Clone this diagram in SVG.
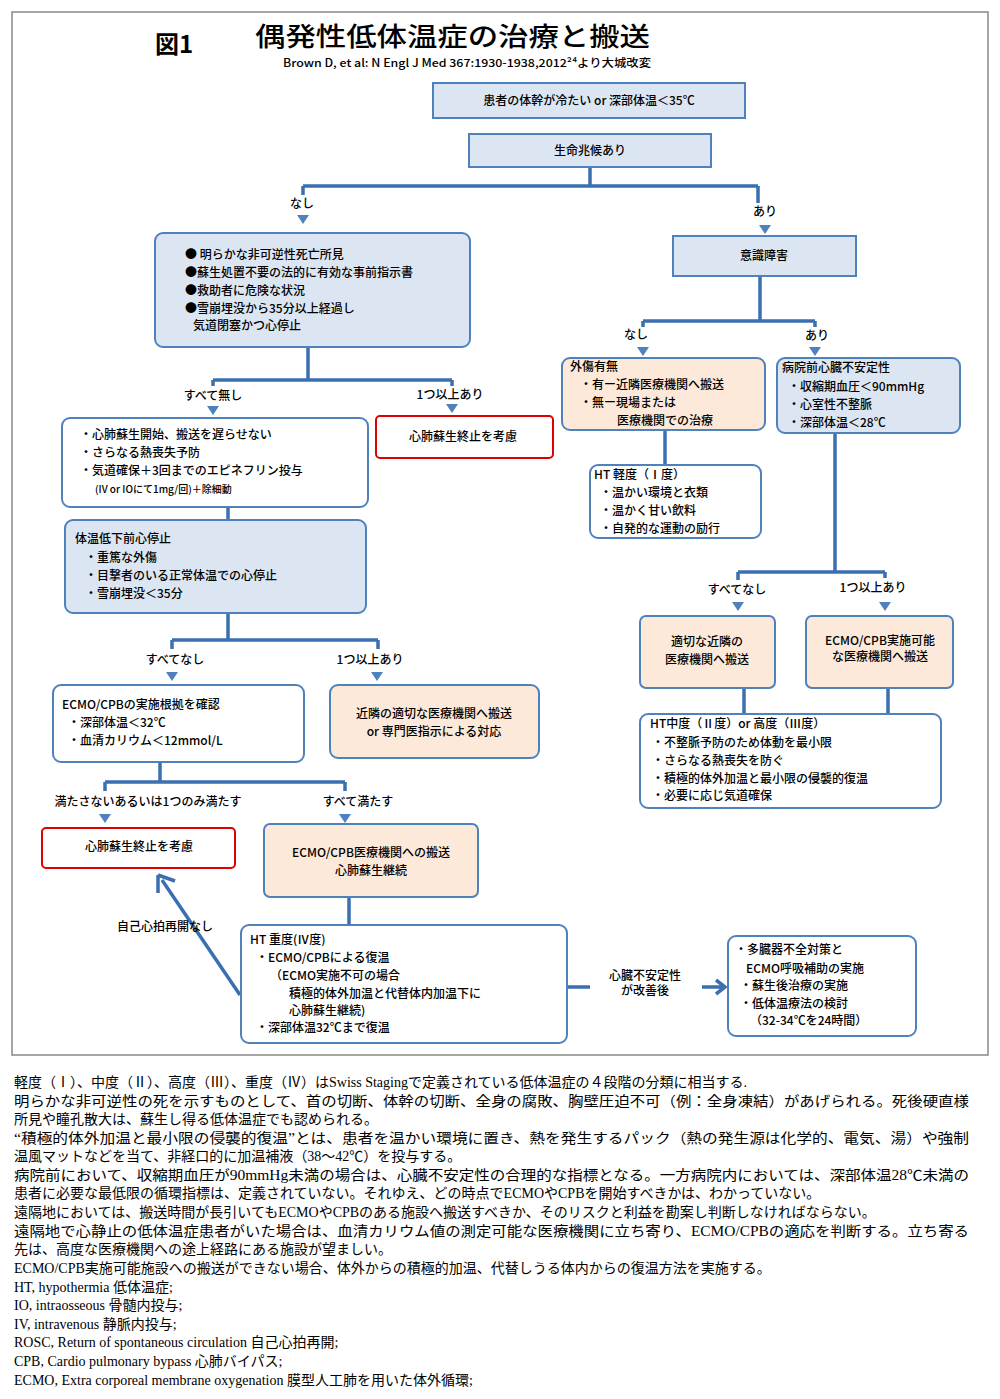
<svg xmlns="http://www.w3.org/2000/svg" xmlns:xlink="http://www.w3.org/1999/xlink" width="1000" height="1399" viewBox="0 0 1000 1399">
<style>
text{font-family:"Noto Sans CJK JP",sans-serif;font-size:12px;fill:#000;font-weight:500}
.b{stroke:#4f81bd;stroke-width:2}
.blue{fill:#dce6f2}.peach{fill:#fde9d9}.white{fill:#fff}
.red{fill:#fff;stroke:#e00000;stroke-width:2}
.ln{stroke:#3a70b0;stroke-width:3.5;fill:none}
.c{text-anchor:middle}
.fn{font-family:"Liberation Serif","Noto Sans CJK JP",serif;font-size:14px;font-weight:normal}
</style>
<defs>
<path id="tri" d="M-6,-5 L6,-5 L0,4 Z" fill="#4f81bd"/>
</defs>
<rect x="0" y="0" width="1000" height="1399" fill="#fff"/>
<rect x="12" y="12" width="976" height="1043" fill="none" stroke="#888" stroke-width="1.5"/>
<text x="155" y="53" style="font-size:24px;font-weight:bold">図1</text>
<text x="255" y="46" style="font-size:26px" textLength="395" lengthAdjust="spacingAndGlyphs">偶発性低体温症の治療と搬送</text>
<text x="283" y="67" style="font-size:11px" textLength="368" lengthAdjust="spacingAndGlyphs">Brown D, et al: N Engl  J Med 367:1930-1938,2012²⁴より大城改変</text>

<g id="connectors">
<path class="ln" d="M590,167V186 M303,186H758 M303,186V195 M758,186V203"/>
<path class="ln" d="M760,276V321 M643,321H815 M643,321V327 M815,321V327"/>
<path class="ln" d="M665,430V465"/>
<path class="ln" d="M835,433V572 M738,572H885 M738,572V580 M885,572V578"/>
<path class="ln" d="M744,688V714 M888,688V714"/>
<path class="ln" d="M308,347V380 M213,380H452 M213,380V386 M452,380V386"/>
<path class="ln" d="M228,507V520"/>
<path class="ln" d="M228,613V640 M172,640H378 M172,640V649 M378,640V649"/>
<path class="ln" d="M160,762V782 M105,782H345 M105,782V791 M345,782V791"/>
<path class="ln" d="M349,897V925"/>
<path class="ln" d="M240,995L162,880 M158,875l0,18 M158,875l17,6"/>
<path class="ln" d="M567,987H590 M702,987H724 M716,980l9,7l-9,7"/>
<use href="#tri" x="303" y="220"/><use href="#tri" x="765" y="230"/>
<use href="#tri" x="643" y="352"/><use href="#tri" x="815" y="352"/>
<use href="#tri" x="738" y="607"/><use href="#tri" x="885" y="607"/>
<use href="#tri" x="213" y="411"/><use href="#tri" x="452" y="409"/>
<use href="#tri" x="172" y="677"/><use href="#tri" x="377" y="677"/>
<use href="#tri" x="105" y="819"/><use href="#tri" x="345" y="819"/>
</g>
<g id="labels">
<text x="302" y="208" class="c">なし</text>
<text x="765" y="216" class="c">あり</text>
<text x="636" y="339" class="c">なし</text>
<text x="817" y="340" class="c">あり</text>
<text x="737" y="594" class="c">すべてなし</text>
<text x="873" y="592" class="c">1つ以上あり</text>
<text x="213" y="400" class="c">すべて無し</text>
<text x="450" y="399" class="c">1つ以上あり</text>
<text x="175" y="664" class="c">すべてなし</text>
<text x="370" y="664" class="c">1つ以上あり</text>
<text x="148" y="806" class="c">満たさないあるいは1つのみ満たす</text>
<text x="358" y="806" class="c">すべて満たす</text>
<text x="165" y="931" class="c">自己心拍再開なし</text>
<text x="645" y="980" class="c">心臓不安定性</text>
<text x="645" y="995" class="c">が改善後</text>
</g>

<g id="n1"><rect x="433" y="83" width="312" height="35" class="b blue"/><text x="589" y="105" class="c">患者の体幹が冷たい or 深部体温＜35℃</text></g>
<g id="n2"><rect x="469" y="134" width="242" height="33" class="b blue"/><text x="590" y="155" class="c">生命兆候あり</text></g>
<g id="n3"><rect x="155" y="233" width="315" height="114" rx="8" class="b blue"/>
<text x="185" y="259">● 明らかな非可逆性死亡所見</text>
<text x="185" y="277">●蘇生処置不要の法的に有効な事前指示書</text>
<text x="185" y="295">●救助者に危険な状況</text>
<text x="185" y="313">●雪崩埋没から35分以上経過し</text>
<text x="193" y="330">気道閉塞かつ心停止</text></g>
<g id="n4"><rect x="673" y="236" width="183" height="40" class="b blue"/><text x="764" y="260" class="c">意識障害</text></g>
<g id="n5"><rect x="562" y="358" width="203" height="72" rx="8" class="b peach"/>
<text x="570" y="371">外傷有無</text>
<text x="580" y="389">・有ー近隣医療機関へ搬送</text>
<text x="580" y="407">・無ー現場または</text>
<text x="617" y="425">医療機関での治療</text></g>
<g id="n6"><rect x="777" y="358" width="183" height="75" rx="8" class="b blue"/>
<text x="782" y="372">病院前心臓不安定性</text>
<text x="788" y="391">・収縮期血圧＜90mmHg</text>
<text x="788" y="409">・心室性不整脈</text>
<text x="788" y="427">・深部体温＜28℃</text></g>
<g id="n7"><rect x="590" y="465" width="171" height="73" rx="8" class="b white"/>
<text x="594" y="479">HT 軽度（Ⅰ度）</text>
<text x="600" y="497">・温かい環境と衣類</text>
<text x="600" y="515">・温かく甘い飲料</text>
<text x="600" y="533">・自発的な運動の励行</text></g>
<g id="n8"><rect x="640" y="616" width="135" height="72" rx="6" class="b peach"/>
<text x="707" y="646" class="c">適切な近隣の</text><text x="707" y="664" class="c">医療機関へ搬送</text></g>
<g id="n9"><rect x="806" y="616" width="147" height="72" rx="6" class="b peach"/>
<text x="880" y="645" class="c">ECMO/CPB実施可能</text><text x="880" y="661" class="c">な医療機関へ搬送</text></g>
<g id="n10"><rect x="640" y="714" width="301" height="94" rx="8" class="b white"/>
<text x="650" y="728">HT中度（Ⅱ度）or 高度（Ⅲ度）</text>
<text x="652" y="747">・不整脈予防のため体動を最小限</text>
<text x="652" y="765">・さらなる熱喪失を防ぐ</text>
<text x="652" y="783">・積極的体外加温と最小限の侵襲的復温</text>
<text x="652" y="800">・必要に応じ気道確保</text></g>
<g id="n11"><rect x="62" y="418" width="306" height="89" rx="8" class="b white"/>
<text x="80" y="439">・心肺蘇生開始、搬送を遅らせない</text>
<text x="80" y="457">・さらなる熱喪失予防</text>
<text x="80" y="475">・気道確保＋3回までのエピネフリン投与</text>
<text x="95" y="493" style="font-size:10px">(IV or IOにて1mg/回)＋除細動</text></g>
<g id="n12"><rect x="376" y="416" width="177" height="42" rx="4" class="red"/><text x="463" y="441" class="c">心肺蘇生終止を考慮</text></g>
<g id="n13"><rect x="65" y="520" width="301" height="93" rx="8" class="b blue"/>
<text x="75" y="543">体温低下前心停止</text>
<text x="85" y="562">・重篤な外傷</text>
<text x="85" y="580">・目撃者のいる正常体温での心停止</text>
<text x="85" y="598">・雪崩埋没＜35分</text></g>
<g id="n14"><rect x="53" y="685" width="251" height="77" rx="8" class="b white"/>
<text x="62" y="709">ECMO/CPBの実施根拠を確認</text>
<text x="68" y="727">・深部体温＜32℃</text>
<text x="68" y="745">・血清カリウム＜12mmol/L</text></g>
<g id="n15"><rect x="330" y="685" width="209" height="73" rx="8" class="b peach"/>
<text x="434" y="718" class="c">近隣の適切な医療機関へ搬送</text>
<text x="434" y="736" class="c">or 専門医指示による対応</text></g>
<g id="n16"><rect x="42" y="828" width="193" height="40" rx="4" class="red"/><text x="139" y="851" class="c">心肺蘇生終止を考慮</text></g>
<g id="n17"><rect x="264" y="824" width="214" height="73" rx="6" class="b peach"/>
<text x="371" y="857" class="c">ECMO/CPB医療機関への搬送</text>
<text x="371" y="875" class="c">心肺蘇生継続</text></g>
<g id="n18"><rect x="241" y="925" width="326" height="118" rx="8" class="b white"/>
<text x="250" y="944">HT 重度(Ⅳ度)</text>
<text x="256" y="962">・ECMO/CPBによる復温</text>
<text x="270" y="980">（ECMO実施不可の場合</text>
<text x="289" y="998">積極的体外加温と代替体内加温下に</text>
<text x="289" y="1015">心肺蘇生継続)</text>
<text x="256" y="1032">・深部体温32℃まで復温</text></g>
<g id="n19"><rect x="728" y="936" width="188" height="100" rx="8" class="b white"/>
<text x="735" y="954">・多臓器不全対策と</text>
<text x="746" y="973">ECMO呼吸補助の実施</text>
<text x="740" y="990">・蘇生後治療の実施</text>
<text x="740" y="1008">・低体温療法の検討</text>
<text x="750" y="1025">（32-34℃を24時間）</text></g>

<g id="notes">
<text class="fn" x="14" y="1087">軽度（Ⅰ）、中度（Ⅱ）、高度（Ⅲ）、重度（Ⅳ）はSwiss Stagingで定義されている低体温症の４段階の分類に相当する.</text>
<text class="fn" x="14" y="1106" textLength="955" lengthAdjust="spacingAndGlyphs">明らかな非可逆性の死を示すものとして、首の切断、体幹の切断、全身の腐敗、胸壁圧迫不可（例：全身凍結）があげられる。死後硬直様</text>
<text class="fn" x="14" y="1124">所見や瞳孔散大は、蘇生し得る低体温症でも認められる。</text>
<text class="fn" x="14" y="1143" textLength="955" lengthAdjust="spacingAndGlyphs">“積極的体外加温と最小限の侵襲的復温”とは、患者を温かい環境に置き、熱を発生するパック（熱の発生源は化学的、電気、湯）や強制</text>
<text class="fn" x="14" y="1161">温風マットなどを当て、非経口的に加温補液（38～42℃）を投与する。</text>
<text class="fn" x="14" y="1180" textLength="955" lengthAdjust="spacingAndGlyphs">病院前において、収縮期血圧が90mmHg未満の場合は、心臓不安定性の合理的な指標となる。一方病院内においては、深部体温28℃未満の</text>
<text class="fn" x="14" y="1198">患者に必要な最低限の循環指標は、定義されていない。それゆえ、どの時点でECMOやCPBを開始すべきかは、わかっていない。</text>
<text class="fn" x="14" y="1217">遠隔地においては、搬送時間が長引いてもECMOやCPBのある施設へ搬送すべきか、そのリスクと利益を勘案し判断しなければならない。</text>
<text class="fn" x="14" y="1236" textLength="955" lengthAdjust="spacingAndGlyphs">遠隔地で心静止の低体温症患者がいた場合は、血清カリウム値の測定可能な医療機関に立ち寄り、ECMO/CPBの適応を判断する。立ち寄る</text>
<text class="fn" x="14" y="1254">先は、高度な医療機関への途上経路にある施設が望ましい。</text>
<text class="fn" x="14" y="1273">ECMO/CPB実施可能施設への搬送ができない場合、体外からの積極的加温、代替しうる体内からの復温方法を実施する。</text>
<text class="fn" x="14" y="1292">HT, hypothermia 低体温症;</text>
<text class="fn" x="14" y="1310">IO, intraosseous 骨髄内投与;</text>
<text class="fn" x="14" y="1329">IV, intravenous 静脈内投与;</text>
<text class="fn" x="14" y="1347">ROSC, Return of spontaneous circulation 自己心拍再開;</text>
<text class="fn" x="14" y="1366">CPB, Cardio pulmonary bypass 心肺バイパス;</text>
<text class="fn" x="14" y="1385">ECMO, Extra corporeal membrane oxygenation 膜型人工肺を用いた体外循環;</text>
</g>
</svg>
